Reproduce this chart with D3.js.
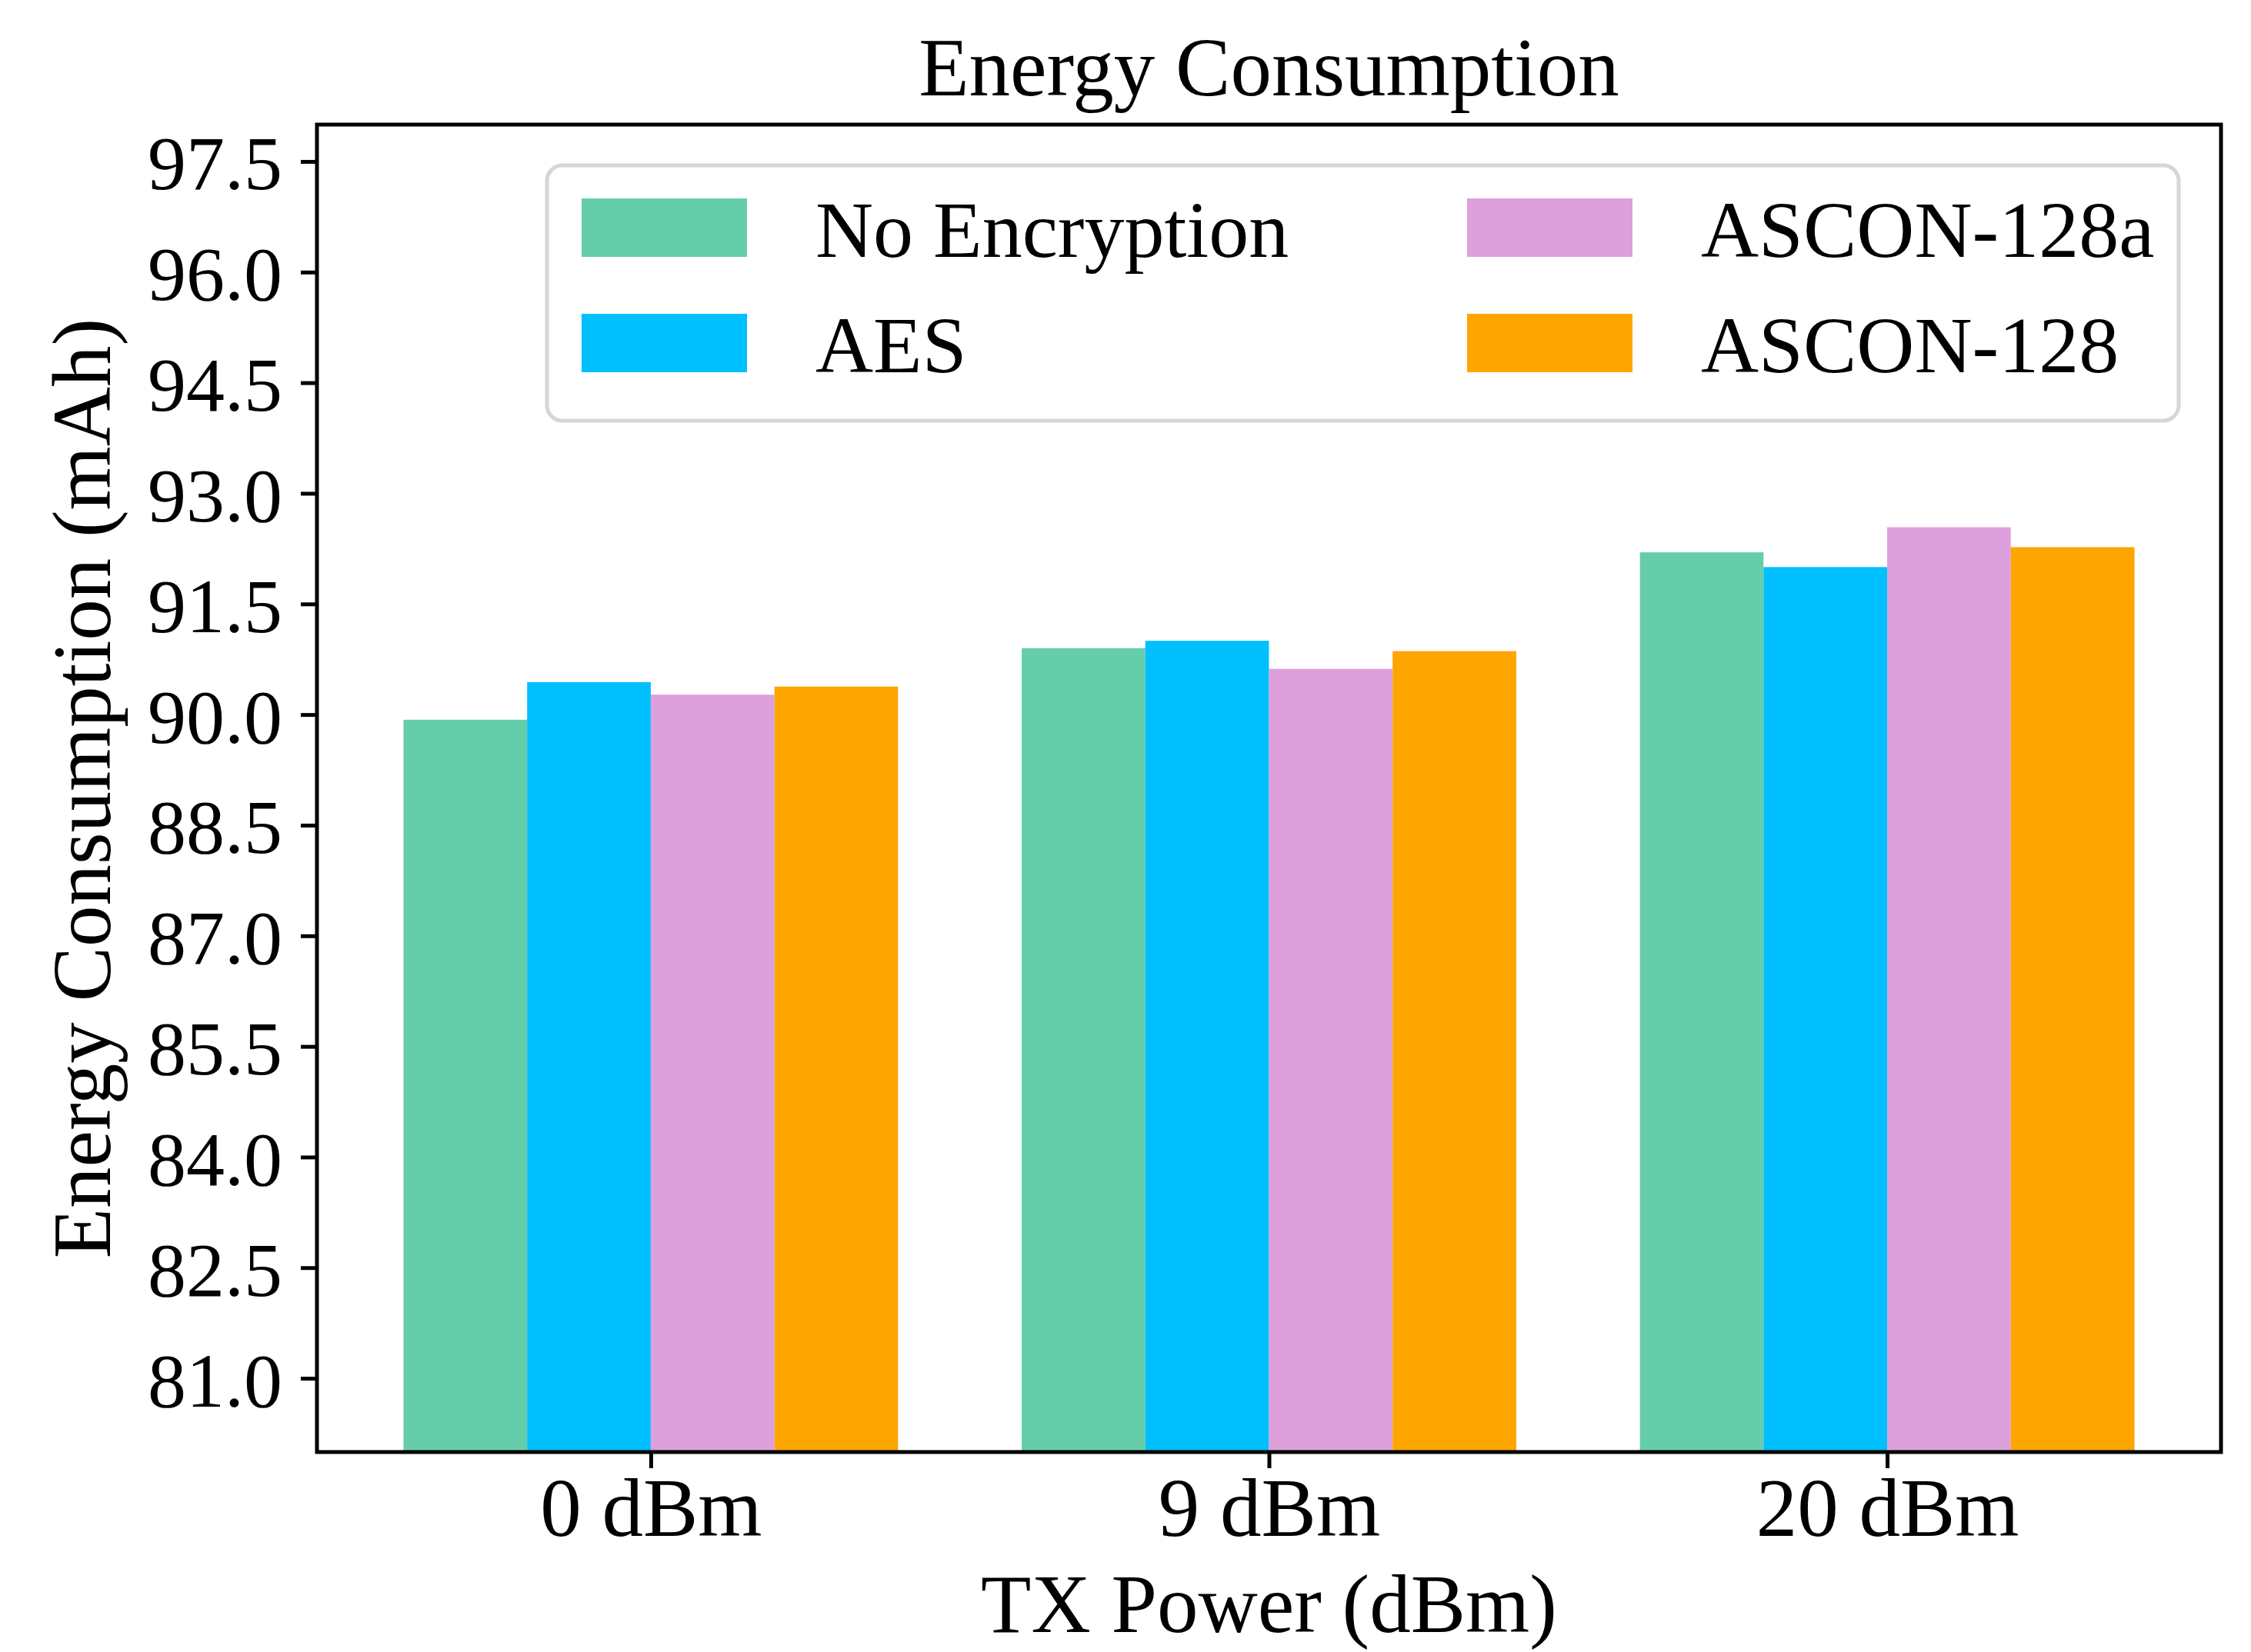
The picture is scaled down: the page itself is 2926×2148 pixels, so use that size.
<!DOCTYPE html>
<html>
<head>
<meta charset="utf-8">
<script src="https://cdn.jsdelivr.net/npm/d3@7"></script>
<style>
  html, body { margin: 0; padding: 0; background: #fff; }
  text { font-family: "Liberation Serif", "Times New Roman", serif; fill: #000; }
</style>
</head>
<body>
<div id="chart"></div>
<script>
// values (mAh)
const txPower = ["0 dBm", "9 dBm", "20 dBm"];
const seriesNames = ["No Encryption", "AES", "ASCON-128a", "ASCON-128"];
const noEncryption = [89.93, 90.9, 92.2];
const aes = [90.44, 91.0, 92.0];
const ascon128a = [90.27, 90.62, 92.54];
const ascon128 = [90.38, 90.86, 92.27];
const yTicks = [81.0, 82.5, 84.0, 85.5, 87.0, 88.5, 90.0, 91.5, 93.0, 94.5, 96.0, 97.5];
const colors = ["#66CDAA", "#00BFFF", "#DDA0DD", "#FFA500"];

const W = 2926, H = 2148;
const margin = { top: 162, right: 39, bottom: 260, left: 412 };
const width = W - margin.left - margin.right;
const height = H - margin.top - margin.bottom;
const barW = 0.2;

const allSeries = [noEncryption, aes, ascon128a, ascon128];

const svg = d3.select("#chart").append("svg")
  .attr("width", W)
  .attr("height", H);

const g = svg.append("g")
  .attr("transform", "translate(" + margin.left + "," + margin.top + ")");

const x = d3.scaleLinear().domain([-0.54, 2.54]).range([0, width]);
const y = d3.scaleLinear().domain([80, 98]).range([height, 0]);

// bars, one group per series
allSeries.forEach(function (vals, i) {
  const offset = (i - 1.5) * barW;
  g.selectAll(".bar" + i)
    .data(vals)
    .enter()
    .append("rect")
    .attr("x", (d, j) => x(j + offset - barW / 2))
    .attr("width", x(barW) - x(0))
    .attr("y", d => y(d))
    .attr("height", d => height - y(d))
    .style("fill", colors[i]);
});

// axes
const yAxis = g.append("g")
  .call(d3.axisLeft(y).tickValues(yTicks).tickSize(21).tickPadding(24)
    .tickFormat(d3.format(".1f")));
const xAxis = g.append("g")
  .attr("transform", "translate(0," + height + ")")
  .call(d3.axisBottom(x).tickValues([0, 1, 2]).tickSize(21).tickPadding(12)
    .tickFormat(d => txPower[d]));

[yAxis, xAxis].forEach(function (ax) {
  ax.select(".domain").remove();
  ax.selectAll(".tick line").attr("stroke", "#000").attr("stroke-width", 5);
});
yAxis.selectAll(".tick text")
  .style("font-size", "100px")
  .attr("dy", "0.36em");
xAxis.selectAll(".tick text")
  .style("font-size", "107px")
  .attr("dy", "0.71em");

// frame
g.append("rect")
  .attr("width", width)
  .attr("height", height)
  .attr("fill", "none")
  .attr("stroke", "#000")
  .attr("stroke-width", 5);

// legend
const legend = g.append("g")
  .attr("transform", "translate(" + (711 - margin.left) + "," + (215 - margin.top) + ")");
legend.append("rect")
  .attr("width", 2121)
  .attr("height", 332)
  .attr("rx", 20)
  .attr("fill", "#fff")
  .attr("stroke", "#d6d6d6")
  .attr("stroke-width", 5);

const legendItems = legend.selectAll(".item")
  .data(seriesNames)
  .enter()
  .append("g")
  .attr("transform", function (d, i) {
    // two columns: first two entries left, next two right
    const col = Math.floor(i / 2), row = i % 2;
    return "translate(" + (45 + col * 1151) + "," + (43 + row * 150) + ")";
  });
legendItems.append("rect")
  .attr("width", 215)
  .attr("height", 76)
  .style("fill", (d, i) => colors[i]);
legendItems.append("text")
  .attr("x", 304)
  .attr("y", 76)
  .style("font-size", "104px")
  .text(d => d);

// titles
svg.append("text")
  .attr("x", margin.left + width / 2)
  .attr("y", 124)
  .attr("text-anchor", "middle")
  .style("font-size", "107px")
  .text("Energy Consumption");

svg.append("text")
  .attr("x", margin.left + width / 2)
  .attr("y", 2122)
  .attr("text-anchor", "middle")
  .style("font-size", "107px")
  .text("TX Power (dBm)");

svg.append("text")
  .attr("transform", "translate(143," + (margin.top + height / 2) + ") rotate(-90)")
  .attr("text-anchor", "middle")
  .style("font-size", "107px")
  .text("Energy Consumption (mAh)");
</script>
</body>
</html>
